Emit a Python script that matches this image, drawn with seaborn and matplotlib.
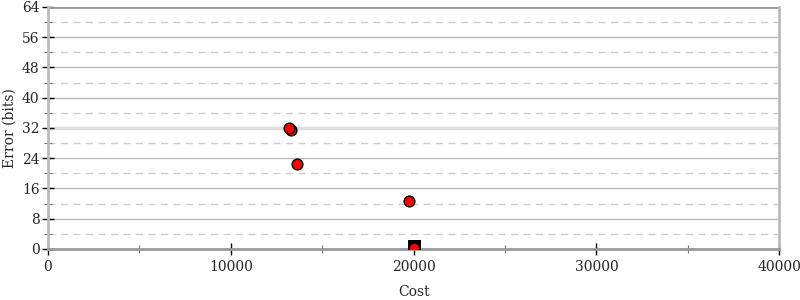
import matplotlib
matplotlib.use("Agg")
import matplotlib.pyplot as plt
import seaborn as sns
import pandas as pd
from matplotlib.ticker import MultipleLocator

cost = [13300, 13200, 13600, 19750, 20030]
error = [31.5, 32.0, 22.5, 12.8, 0.3]
best_cost = [20000]
best_error = [0.8]

sns.set_theme(style="white")
plt.rcParams['font.family'] = ['DejaVu Serif']

fig = plt.figure(figsize=(8, 3), dpi=100)
ax = fig.add_axes([0.06, 0.17, 0.914, 0.807])

for y in range(8, 64, 8):
    ax.axhline(y, color="#bbbbbb", lw=1, zorder=0)
for y in range(4, 64, 8):
    ax.axhline(y, color="#cccccc", lw=1, ls=(0, (5, 4)), zorder=0)
ax.axhline(32, color="#dddddd", lw=2.5, zorder=0)
ax.axhline(64, color="#999999", lw=2, zorder=1)

df_best = pd.DataFrame({"cost": best_cost, "error": best_error})
df = pd.DataFrame({"cost": cost, "error": error})
sns.scatterplot(data=df_best, x="cost", y="error", marker="s", s=80, color="black", edgecolor="black", ax=ax, zorder=3)
sns.scatterplot(data=df, x="cost", y="error", marker="o", s=60, color="red", edgecolor="black", linewidth=1, ax=ax, zorder=4)

ax.set_xlim(0, 40000)
ax.set_ylim(0, 64)
ax.xaxis.set_major_locator(MultipleLocator(10000))
ax.xaxis.set_minor_locator(MultipleLocator(5000))
ax.yaxis.set_major_locator(MultipleLocator(8))
ax.yaxis.set_minor_locator(MultipleLocator(4))
ax.tick_params(axis="both", which="major", direction="inout", length=8, width=1, color="black", labelsize=10, left=True, bottom=True)
ax.tick_params(axis="both", which="minor", direction="inout", length=6, width=0.8, color="#777777", left=True, bottom=True)
ax.tick_params(axis="y", pad=2)
ax.tick_params(axis="x", pad=4)

ax.spines["top"].set_visible(False)
ax.spines["left"].set_color("#bbbbbb")
ax.spines["left"].set_linewidth(2)
ax.spines["right"].set_color("#bbbbbb")
ax.spines["right"].set_linewidth(2)
ax.spines["bottom"].set_color("#999999")
ax.spines["bottom"].set_linewidth(2)

ax.set_xlabel("Cost", fontsize=10, labelpad=8)
ax.set_ylabel("Error (bits)", fontsize=10, labelpad=4)

fig.savefig("out.png", dpi=100)
